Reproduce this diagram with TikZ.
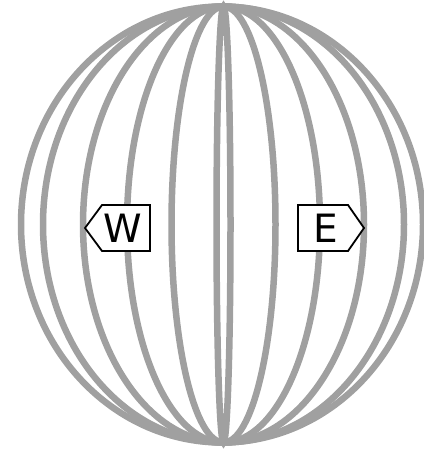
\documentclass[tikz,border=0pt]{standalone}
\usepackage{fontspec}
\setmainfont{DejaVu Sans}
\usetikzlibrary{positioning}
\definecolor{cGrid}{HTML}{A0A0A0}
\tikzset{
  merid/.style ={draw=cGrid, line width=6.5pt},
  tag/.style   ={draw=black, fill=white, line width=1.8pt, line join=miter},
  lbl/.style   ={font=\fontsize{39}{39}\selectfont, inner sep=0pt},
}
\begin{document}
\begin{tikzpicture}[x=1pt,y=-1pt]
  \useasboundingbox (0,0) rectangle (423,449);
  % meridians
  \foreach \hw in {7,52,96.5,140.5,180.5}
    \draw[merid] (223.5,224.5) ellipse [x radius=\hw, y radius=218];
  \draw[merid] (222,224.5) ellipse [x radius=201, y radius=218];
  % direction tags
  \draw[tag] (85,228) -- (102,205) -- (150,205) -- (150,251) -- (102,251) -- cycle;
  \draw[tag] (364,228) -- (348,205) -- (298,205) -- (298,251) -- (348,251) -- cycle;
  \node[lbl] (w) at (123,228) {W};
  \node[lbl] (e) at (326,228) {E};
\end{tikzpicture}
\end{document}
